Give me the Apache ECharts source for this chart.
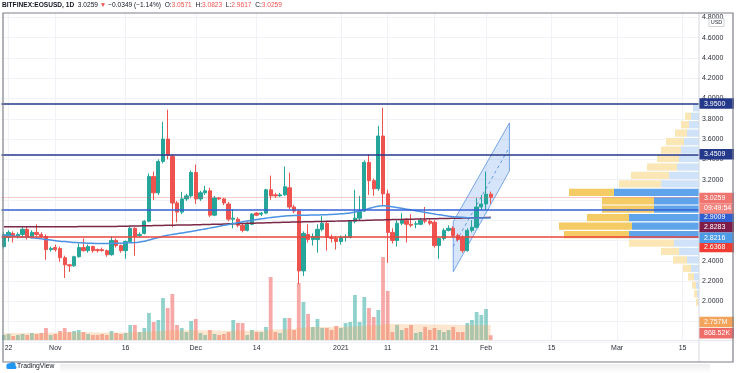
<!DOCTYPE html>
<html><head><meta charset="utf-8">
<script src="https://cdn.jsdelivr.net/npm/echarts@6/dist/echarts.min.js"></script>
<style>html,body{margin:0;padding:0;background:#fff}#c{width:736px;height:373px}</style>
</head><body><div id="c"></div>
<script>
// ---------- data ----------
const startDate = '2020-10-21';
const dayCount = 149;
const tickDates = ['2020-10-22','2020-11-01','2020-11-16','2020-12-01','2020-12-14','2021-01-01','2021-01-11','2021-01-21','2021-02-01','2021-02-15','2021-03-01','2021-03-15'];
const tickLabels = ['22','Nov','16','Dec','14','2021','11','21','Feb','15','Mar','15'];

const opens = [2.54,2.63,2.67,2.64,2.66,2.71,2.64,2.68,2.66,2.64, 2.51,2.53,2.52,2.43,2.36,2.35,2.44,2.53,2.50,2.54, 2.51,2.51,2.50,2.46,2.60,2.55,2.50,2.59,2.72,2.65, 2.67,2.79,3.23,3.07,3.38,3.60,3.43,2.97,2.88,3.01, 3.04,3.27,3.01,3.07,3.09,2.85,3.02,3.01,2.96,2.81, 2.81,2.75,2.70,2.76,2.87,2.86,2.87,3.10,3.05,3.04, 3.05,3.12,2.93,2.89,2.30,2.66,2.61,2.61,2.71,2.77, 2.63,2.62,2.59,2.63,2.63,2.79,2.82,2.89,3.37,3.19, 3.11,3.63,3.06,2.68,2.60,2.77,2.80,2.76,2.76,2.76, 2.80,2.79,2.78,2.55,2.62,2.70,2.72,2.65,2.63,2.50, 2.70,2.73,2.93,2.96,3.0571];
const closes = [2.655,2.68,2.64,2.66,2.71,2.64,2.68,2.66,2.64,2.51, 2.52,2.51,2.43,2.36,2.35,2.44,2.53,2.50,2.54,2.50, 2.50,2.50,2.46,2.60,2.55,2.50,2.59,2.72,2.64,2.66, 2.79,3.23,3.07,3.38,3.60,3.44,2.97,2.88,3.01,3.04, 3.27,3.01,3.07,3.09,2.85,3.02,3.01,2.97,2.81,2.82, 2.75,2.70,2.76,2.86,2.85,2.87,3.10,3.04,3.04,3.05, 3.13,2.93,2.89,2.30,2.67,2.61,2.64,2.71,2.77,2.63, 2.62,2.59,2.63,2.635,2.79,2.82,2.89,3.37,3.19,3.11, 3.63,3.06,2.68,2.60,2.77,2.80,2.76,2.75,2.765,2.80, 2.79,2.77,2.55,2.62,2.70,2.72,2.65,2.61,2.50,2.70, 2.73,2.93,2.96,3.0571,3.0259];
const lows = [2.52,2.59,2.58,2.62,2.64,2.61,2.62,2.64,2.62,2.41, 2.49,2.49,2.39,2.23,2.29,2.34,2.43,2.49,2.48,2.48, 2.48,2.49,2.44,2.45,2.53,2.48,2.42,2.58,2.45,2.63, 2.66,2.78,3.00,3.05,3.36,3.40,2.73,2.78,2.86,2.99, 3.02,2.96,2.99,3.05,2.83,2.84,3.00,2.95,2.79,2.72, 2.73,2.68,2.69,2.75,2.84,2.84,2.86,3.00,3.02,3.03, 3.04,2.91,2.87,2.17,2.25,2.58,2.55,2.48,2.69,2.50, 2.58,2.51,2.56,2.59,2.62,2.77,2.80,2.88,3.05,3.04, 3.09,2.95,2.38,2.57,2.54,2.75,2.58,2.73,2.72,2.75, 2.77,2.75,2.53,2.42,2.60,2.69,2.63,2.59,2.48,2.49, 2.68,2.72,2.90,2.90,2.9617];
const highs = [2.68,2.70,2.69,2.68,2.73,2.74,2.70,2.76,2.68,2.66, 2.54,2.56,2.54,2.45,2.37,2.45,2.57,2.62,2.56,2.55, 2.52,2.53,2.51,2.64,2.62,2.56,2.60,2.74,2.73,2.68, 2.80,3.26,3.28,3.40,3.77,3.89,3.45,2.99,3.08,3.06, 3.29,3.35,3.09,3.14,3.12,3.04,3.03,3.02,2.98,2.91, 2.83,2.77,2.78,2.87,2.88,2.88,3.11,3.24,3.07,3.07, 3.33,3.27,2.95,2.91,2.69,2.76,2.67,2.76,2.84,2.79, 2.66,2.64,2.65,2.66,2.80,3.10,3.04,3.39,3.45,3.21, 3.73,3.91,3.10,2.72,2.80,2.87,2.82,2.86,2.79,2.82, 2.93,2.81,2.80,2.64,2.72,2.75,2.74,2.67,2.65,2.72, 2.80,3.02,3.05,3.28,3.0823];

// volume in millions
const volume = [0.92,1.10,0.74,0.92,1.10,0.92,1.29,1.10,1.29,2.21, 0.92,1.10,1.65,2.21,1.47,1.65,1.84,1.47,1.10,0.92, 0.92,1.10,0.92,1.65,1.29,1.10,1.29,2.76,2.76,1.47, 2.21,4.96,3.31,3.68,7.72,5.88,8.46,2.76,2.21,1.47, 3.49,3.86,1.29,0.92,1.84,1.10,0.92,1.10,1.47,3.68, 3.13,3.13,0.92,1.84,1.47,1.47,2.39,11.58,1.47,1.29, 4.04,4.04,1.84,10.48,6.99,4.78,2.39,3.86,2.21,2.21, 1.84,2.57,2.21,3.13,3.31,8.27,3.31,7.90,5.88,4.23, 5.51,15.26,9.01,1.47,2.76,1.84,2.21,2.76,1.29,1.47, 2.39,1.84,2.21,1.84,1.47,1.84,2.39,1.47,1.47,3.13, 3.68,5.15,4.60,5.70,0.86852];
const volumeMA = [1.30,1.30,1.29,1.29,1.28,1.28,1.29,1.29,1.30,1.34, 1.34,1.34,1.36,1.40,1.41,1.42,1.44,1.44,1.43,1.42, 1.41,1.40,1.39,1.40,1.40,1.39,1.39,1.43,1.47,1.48, 1.50,1.56,1.59,1.62,1.68,1.72,1.78,1.78,1.79,1.79, 1.80,1.81,1.80,1.79,1.78,1.76,1.74,1.72,1.71,1.72, 1.73,1.74,1.72,1.73,1.73,1.74,1.75,1.92,1.93,1.94, 1.98,2.02,2.03,2.20,2.30,2.36,2.37,2.40,2.40,2.41, 2.41,2.42,2.43,2.44,2.45,2.55,2.55,2.62,2.66,2.68, 2.72,2.90,2.95,2.93,2.92,2.92,2.91,2.90,2.89,2.88, 2.87,2.86,2.85,2.84,2.82,2.80,2.80,2.78,2.77,2.77, 2.77,2.77,2.76,2.76,2.757];

const maBlue = [2.655,2.65,2.645,2.64,2.635,2.632,2.628,2.622,2.616,2.61, 2.604,2.598,2.593,2.589,2.585,2.581,2.578,2.575,2.573,2.572, 2.571,2.571,2.571,2.572,2.572,2.573,2.575,2.578,2.58,2.585, 2.592,2.604,2.617,2.63,2.642,2.652,2.66,2.667,2.674,2.681, 2.689,2.697,2.705,2.714,2.722,2.731,2.74,2.749,2.758,2.767, 2.776,2.784,2.792,2.8,2.807,2.814,2.82,2.826,2.832,2.837, 2.842,2.845,2.847,2.848,2.849,2.85,2.851,2.852,2.853,2.855, 2.857,2.86,2.863,2.867,2.872,2.88,2.89,2.902,2.915,2.928, 2.938,2.942,2.94,2.933,2.925,2.917,2.909,2.901,2.893,2.885, 2.877,2.869,2.861,2.853,2.846,2.84,2.835,2.831,2.828,2.825, 2.823,2.822,2.822,2.822,2.8216];
const maMaroon = [2.735,2.735,2.735,2.735,2.735,2.735,2.735,2.735,2.736,2.736, 2.736,2.736,2.736,2.736,2.736,2.736,2.737,2.737,2.737,2.737, 2.737,2.738,2.738,2.739,2.739,2.740,2.741,2.742,2.743,2.744, 2.745,2.746,2.747,2.748,2.749,2.750,2.751,2.752,2.753,2.754, 2.754,2.755,2.756,2.757,2.758,2.760,2.761,2.762,2.764,2.765, 2.766,2.768,2.769,2.770,2.772,2.773,2.774,2.776,2.777,2.778, 2.780,2.781,2.782,2.783,2.784,2.785,2.786,2.787,2.788,2.789, 2.790,2.791,2.792,2.793,2.795,2.796,2.797,2.798,2.800,2.801, 2.802,2.803,2.804,2.806,2.807,2.808,2.809,2.810,2.811,2.812, 2.813,2.814,2.815,2.816,2.817,2.818,2.819,2.820,2.821,2.822, 2.823,2.824,2.825,2.826,2.8283];

// horizontal levels
const levelPrices = [3.95, 3.4509, 2.9009, 2.6368];
const lastPrice = 3.0259;
const countdown = '09:49:54';

// regression channel (dates, upper, lower, middle)
const channelDates = ['2021-01-25', '2021-02-06'];
const channelUpper = [2.785, 3.759];
const channelLower = [2.292, 3.285];
const channelMid = [2.54, 3.52];

// visible range volume profile (row low price, up volume, down volume; millions)
const vpRowLow = [1.950,2.033,2.117,2.200,2.283,2.367,2.450,2.533,2.617,2.700,2.783,2.867,2.950,3.033,3.117,3.200,3.283,3.367,3.450,3.533,3.617,3.700,3.783,3.867];
const vpRowHeight = 0.0833;
const vpUp = [0.5,1.0,1.5,2.5,4.0,6.0,10.0,12.5,35.0,33.5,35.0,22.5,22.5,42.5,19.0,15.0,11.0,10.0,9.0,7.5,6.0,5.0,4.0,3.0];
const vpDown = [1.0,1.5,2.0,3.0,4.0,7.0,9.0,22.5,32.5,36.5,21.0,26.0,26.0,22.5,21.0,19.0,15.0,11.0,10.0,9.0,6.0,4.0,3.0,0];
const vaLow = 2.617, vaHigh = 3.117;

// ---------- build ----------
const cats = [];
const t0 = Date.parse(startDate + 'T00:00:00Z');
for (let i = 0; i < dayCount; i++) cats.push(new Date(t0 + i * 86400000).toISOString().slice(0, 10));
const candleData = opens.map((o, i) => [o, closes[i], lows[i], highs[i]]);
const isTick = (idx, val) => tickDates.indexOf(val) >= 0;
const FONT = 'Liberation Sans';
const UP = '#26a69a', DN = '#ef5350';
const HIDDEN_LINE = { color: 'rgba(0,0,0,0)', width: 0 };

function badge(value, text, bg, dy, lineStyle, dist) {
  return {
    yAxis: value,
    lineStyle: lineStyle || HIDDEN_LINE,
    label: { show: true, position: 'end', distance: dist || 0, formatter: text, color: '#fff', backgroundColor: bg,
      fontSize: 7, fontFamily: FONT, padding: [2, 2, 1.5, 5], width: 28, height: 7, lineHeight: 7, offset: [0, dy] }
  };
}

const chart = echarts.init(document.getElementById('c'), null, { renderer: 'canvas' });
const fmtVol = v => v >= 1 ? v.toFixed(3) + 'M' : (v * 1000).toFixed(2) + 'K';

const option = {
  animation: false,
  backgroundColor: '#fff',
  grid: [
    { left: 1.5, right: 37, top: 17.4, height: 324.5 },
    { left: 3.84, right: 39.34, top: 13, height: 327 },
    { left: 555, right: 37, top: 17.4, height: 324.5 }
  ],
  xAxis: [
    { type: 'category', gridIndex: 0, data: cats, boundaryGap: true, show: false },
    { type: 'category', gridIndex: 1, data: cats, boundaryGap: false,
      axisLine: { show: false }, axisTick: { show: false },
      axisLabel: { interval: isTick, formatter: v => tickLabels[tickDates.indexOf(v)], fontSize: 7, fontFamily: FONT, color: '#2a2e39', margin: 5 },
      splitLine: { show: true, interval: isTick, lineStyle: { color: '#f0f2f7', width: 1 } } },
    { type: 'value', gridIndex: 2, min: 0, max: 72, inverse: true, show: false }
  ],
  yAxis: [
    { type: 'value', gridIndex: 0, min: 1.6, max: 4.8, interval: 0.2, position: 'right',
      axisLine: { show: false }, axisTick: { show: false },
      axisLabel: { fontSize: 7, fontFamily: FONT, color: '#2a2e39', margin: 3,
        formatter: v => (Math.abs(v - 1.6) < 1e-6 ? '' : v.toFixed(4)) },
      splitLine: { show: true, lineStyle: { color: '#f0f2f7', width: 1 } } },
    { type: 'value', gridIndex: 1, min: 0, max: 60.1, show: false },
    { type: 'value', gridIndex: 2, min: 1.6, max: 4.8, show: false }
  ],
  series: [
    { type: 'custom', name: 'vp', xAxisIndex: 2, yAxisIndex: 2, z: 1, silent: true,
      data: vpRowLow.map((lo, i) => [lo, lo + vpRowHeight, vpUp[i], vpDown[i]]),
      renderItem: (params, api) => {
        const lo = api.value(0), hi = api.value(1), up = api.value(2), dn = api.value(3);
        const inVA = lo >= vaLow - 1e-6 && hi <= vaHigh + 1e-3;
        const yT = api.coord([0, hi])[1] + 0.6, yB = api.coord([0, lo])[1] - 0.6;
        const x0 = api.coord([0, lo])[0], xu = api.coord([up, lo])[0], xt = api.coord([up + dn, lo])[0];
        return { type: 'group', children: [
          { type: 'rect', shape: { x: xu, y: yT, width: x0 - xu, height: yB - yT }, style: { fill: inVA ? '#5fa3ea' : '#cfe2f7' } },
          { type: 'rect', shape: { x: xt, y: yT, width: xu - xt, height: yB - yT }, style: { fill: inVA ? '#f5cb66' : '#fbe6b6' } }
        ] };
      } },
    { type: 'bar', name: 'vol', xAxisIndex: 1, yAxisIndex: 1, z: 1, barWidth: 3.8,
      data: volume.map((v, i) => ({ value: v, itemStyle: { color: closes[i] >= opens[i] ? 'rgba(38,166,154,0.5)' : 'rgba(239,83,80,0.5)' } })) },
    { type: 'line', name: 'volMA', xAxisIndex: 1, yAxisIndex: 1, z: 2, data: volumeMA, symbol: 'none',
      lineStyle: { width: 0 }, areaStyle: { color: 'rgba(244,160,80,0.38)' },
      markLine: { silent: true, symbol: ['none', 'none'], data: [
        badge(volumeMA[volumeMA.length - 1], fmtVol(volumeMA[volumeMA.length - 1]), '#f4a35b', -3, null, 2.34),
        badge(volume[volume.length - 1], fmtVol(volume[volume.length - 1]), '#ef6d69', -2, null, 2.34)
      ] } },
    { type: 'custom', name: 'channel', xAxisIndex: 0, yAxisIndex: 0, z: 2, silent: true, data: [[0, 0]],
      renderItem: (params, api) => {
        const i0 = cats.indexOf(channelDates[0]), i1 = cats.indexOf(channelDates[1]);
        const pts = [api.coord([i0, channelUpper[0]]), api.coord([i1, channelUpper[1]]), api.coord([i1, channelLower[1]]), api.coord([i0, channelLower[0]])];
        const m0 = api.coord([i0, channelMid[0]]), m1 = api.coord([i1, channelMid[1]]);
        return { type: 'group', children: [
          { type: 'polygon', shape: { points: pts }, style: { fill: 'rgba(90,150,230,0.25)', stroke: 'rgba(80,140,225,0.75)', lineWidth: 1 } },
          { type: 'line', shape: { x1: m0[0], y1: m0[1], x2: m1[0], y2: m1[1] }, style: { stroke: 'rgba(80,140,225,0.85)', lineWidth: 1, lineDash: [3, 3] } }
        ] };
      } },
    { type: 'candlestick', name: 'EOSUSD', xAxisIndex: 0, yAxisIndex: 0, z: 3, barWidth: 3.8, data: candleData,
      itemStyle: { color: UP, color0: DN, borderColor: UP, borderColor0: DN, borderWidth: 1 },
      markLine: { silent: true, symbol: ['none', 'none'], data: [
        badge(levelPrices[0], levelPrices[0].toFixed(4), '#24398a', 0, { color: '#26398a', width: 1.5, type: 'solid' }),
        badge(levelPrices[1], levelPrices[1].toFixed(4), '#24398a', 0, { color: '#26398a', width: 1.5, type: 'solid' }),
        badge(levelPrices[2], levelPrices[2].toFixed(4), '#2f5fd0', 7, { color: '#3561d6', width: 1.5, type: 'solid' }),
        badge(levelPrices[3], levelPrices[3].toFixed(4), '#f03c33', 10.5, { color: '#e8453c', width: 1.5, type: 'solid' }),
        badge(lastPrice, lastPrice.toFixed(4), '#f07470', 1, { color: 'rgba(239,83,80,0.6)', width: 1, type: 'dotted' }),
        badge(lastPrice, countdown, '#f28580', 11.5, null)
      ] } },
    { type: 'line', name: 'MA200', xAxisIndex: 0, yAxisIndex: 0, z: 4, data: maMaroon, symbol: 'none', smooth: true,
      lineStyle: { color: '#7c2947', width: 1.5 },
      markLine: { silent: true, symbol: ['none', 'none'], data: [ badge(maMaroon[maMaroon.length - 1], maMaroon[maMaroon.length - 1].toFixed(4), '#7f1d4a', 10, null) ] } },
    { type: 'line', name: 'MA50', xAxisIndex: 0, yAxisIndex: 0, z: 4, data: maBlue, symbol: 'none', smooth: true,
      lineStyle: { color: '#4b92e3', width: 1.5 },
      markLine: { silent: true, symbol: ['none', 'none'], data: [ badge(maBlue[maBlue.length - 1], maBlue[maBlue.length - 1].toFixed(4), '#4d9be6', 19.5, null) ] } }
  ],
  graphic: [
    { type: 'rect', z: 0, silent: true, shape: { x: 60, y: 364, width: 650, height: 9 },
      style: { fill: new echarts.graphic.LinearGradient(0, 0, 0, 1, [{ offset: 0, color: 'rgba(0,0,0,0.07)' }, { offset: 1, color: 'rgba(0,0,0,0)' }]) } },
    { type: 'line', z: 50, silent: true, shape: { x1: 699, y1: 13, x2: 699, y2: 362 }, style: { stroke: '#d6d8de', lineWidth: 1 } },
    { type: 'line', z: 50, silent: true, shape: { x1: 3, y1: 340.5, x2: 733, y2: 340.5 }, style: { stroke: '#e6e8ee', lineWidth: 1 } },
    { type: 'rect', z: 60, silent: true, shape: { x: 3, y: 13, width: 730, height: 349 }, style: { fill: 'none', stroke: '#7d808a', lineWidth: 1.2 } },
    { type: 'rect', z: 60, silent: true, shape: { x: 709, y: 18.5, width: 15, height: 8 }, style: { fill: '#fff', stroke: '#c4c7ce', lineWidth: 0.8 } },
    { type: 'text', z: 61, silent: true, x: 716.5, y: 22.7, style: { text: 'USD', fontSize: 5.5, fontFamily: FONT, fill: '#2a2e39', align: 'center', verticalAlign: 'middle' } },
    { type: 'text', z: 61, silent: true, x: 2, y: 5.5, style: {
      text: '{b|BITFINEX:EOSUSD, 1D}  {n|3.0259} {r|▼} {n|−0.0349 (−1.14%)}  {n|O:}{r|3.0571}  {n|H:}{r|3.0823}  {n|L:}{r|2.9617}  {n|C:}{r|3.0259}',
      fontSize: 6.6, fontFamily: FONT, verticalAlign: 'middle', fill: '#131722',
      rich: { b: { fontWeight: 'bold', fill: '#131722', fontSize: 6.6, fontFamily: FONT }, n: { fill: '#131722', fontSize: 6.6, fontFamily: FONT }, r: { fill: '#ef5350', fontSize: 6.6, fontFamily: FONT } } } },
    { type: 'group', z: 61, silent: true, x: 4, y: 362, children: [
      { type: 'circle', shape: { cx: 5, cy: 3.8, r: 2.6 }, style: { fill: '#2196f3' } },
      { type: 'circle', shape: { cx: 8.5, cy: 3.2, r: 3.1 }, style: { fill: '#2196f3' } },
      { type: 'rect', shape: { x: 2.5, y: 3.8, width: 10, height: 3.2, r: 1.5 }, style: { fill: '#2196f3' } }
    ] },
    { type: 'text', z: 61, silent: true, x: 17, y: 366.5, style: { text: 'TradingView', fontSize: 6.8, fontFamily: FONT, fill: '#131722', verticalAlign: 'middle' } }
  ]
};
chart.setOption(option);
</script>
</body></html>
